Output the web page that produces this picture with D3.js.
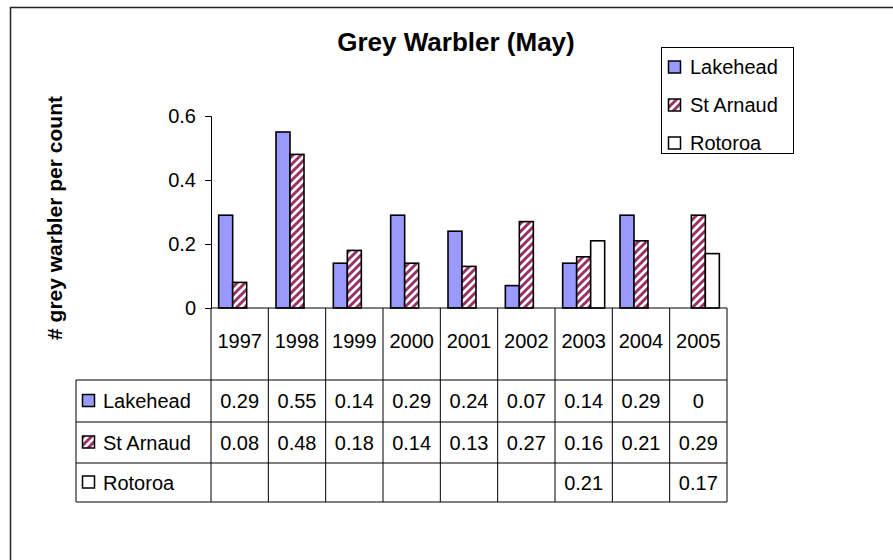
<!DOCTYPE html>
<html>
<head>
<meta charset="utf-8">
<script src="https://cdn.jsdelivr.net/npm/d3@7"></script>
<style>
  body { margin: 0; background: #fff; }
  svg { display: block; }
</style>
</head>
<body>
<div id="chart"></div>
<script>
const years = ["1997", "1998", "1999", "2000", "2001", "2002", "2003", "2004", "2005"];
const seriesNames = ["Lakehead", "St Arnaud", "Rotoroa"];
const lakehead = [0.29, 0.55, 0.14, 0.29, 0.24, 0.07, 0.14, 0.29, 0];
const stArnaud = [0.08, 0.48, 0.18, 0.14, 0.13, 0.27, 0.16, 0.21, 0.29];
const rotoroa = [null, null, null, null, null, null, 0.21, null, 0.17];
const yTicks = [0, 0.2, 0.4, 0.6];

const W = 893, H = 560;
const font = "'Liberation Sans', Arial, sans-serif";
const plot = {left: 211, right: 727, top: 116, bottom: 308};
const tableLeft = 76;
const rowLines = [380, 422, 463, 502];

const svg = d3.select("#chart")
    .append("svg")
    .attr("width", W)
    .attr("height", H)
    .style("font-family", font);

// hatch for St Arnaud
const defs = svg.append("defs");
defs.append("pattern")
    .attr("id", "hatch")
    .attr("patternUnits", "userSpaceOnUse")
    .attr("width", 8)
    .attr("height", 8)
    .call(p => {
        p.append("rect").attr("width", 8).attr("height", 8).attr("fill", "#fff");
        p.append("path")
            .attr("d", "M-2,2 l4,-4 M0,8 l8,-8 M6,10 l4,-4")
            .attr("stroke", "#993366")
            .attr("stroke-width", 3);
    });

const fills = ["#9999ff", "url(#hatch)", "#ffffff"];
const series = [lakehead, stArnaud, rotoroa];

// outer frame
svg.append("rect")
    .attr("x", 10.5).attr("y", 7.5)
    .attr("width", 900).attr("height", 600)
    .attr("fill", "none")
    .attr("stroke", "#222")
    .attr("stroke-width", 1.5);

// title
svg.append("text")
    .attr("x", 456)
    .attr("y", 51)
    .attr("text-anchor", "middle")
    .attr("font-size", 26)
    .attr("font-weight", "bold")
    .text("Grey Warbler (May)");

// scales
const x = d3.scaleBand()
    .domain(years)
    .range([plot.left, plot.right]);

const barW = 14;
const xs = d3.scaleBand()
    .domain(seriesNames)
    .range([(x.bandwidth() - barW * 3) / 2, (x.bandwidth() + barW * 3) / 2]);

const y = d3.scaleLinear()
    .domain([0, 0.6])
    .range([plot.bottom, plot.top]);

// y axis
const yAxis = svg.append("g")
    .attr("transform", `translate(${plot.left},0)`)
    .call(d3.axisLeft(y).tickValues(yTicks).tickFormat(d => d === 0 ? "0" : d3.format(".1f")(d))
        .tickSizeOuter(0).tickSize(6).tickPadding(9));
yAxis.select(".domain").attr("stroke", "#000");
yAxis.selectAll("text").attr("font-size", 20).attr("font-family", font).attr("fill", "#000");

// y title
svg.append("text")
    .attr("transform", `translate(62,${(plot.top + plot.bottom) / 2 + 6}) rotate(-90)`)
    .attr("text-anchor", "middle")
    .attr("font-size", 21)
    .attr("font-weight", "bold")
    .text("# grey warbler per count");

// bars
series.forEach((vals, i) => {
    svg.append("g")
        .selectAll("rect")
        .data(vals.map((v, j) => ({year: years[j], v})).filter(d => d.v !== null && d.v > 0))
        .enter()
        .append("rect")
        .attr("x", d => x(d.year) + xs(seriesNames[i]))
        .attr("y", d => y(d.v))
        .attr("width", xs.bandwidth())
        .attr("height", d => y(0) - y(d.v))
        .attr("fill", fills[i])
        .attr("stroke", "#000")
        .attr("stroke-width", 1.6);
});

// x axis line
svg.append("line")
    .attr("x1", plot.left).attr("x2", plot.right)
    .attr("y1", plot.bottom).attr("y2", plot.bottom)
    .attr("stroke", "#000");

// data table grid
const grid = svg.append("g").attr("stroke", "#000").attr("stroke-width", 1);
years.concat(["end"]).forEach(yr => {
    const xx = yr === "end" ? plot.right : x(yr);
    grid.append("line")
        .attr("x1", xx).attr("x2", xx)
        .attr("y1", plot.bottom).attr("y2", rowLines[3]);
});
rowLines.forEach(ry => {
    grid.append("line")
        .attr("x1", tableLeft).attr("x2", plot.right)
        .attr("y1", ry).attr("y2", ry);
});
grid.append("line")
    .attr("x1", tableLeft).attr("x2", tableLeft)
    .attr("y1", rowLines[0]).attr("y2", rowLines[3]);

// header years
svg.append("g")
    .selectAll("text")
    .data(years)
    .enter()
    .append("text")
    .attr("x", d => x(d) + x.bandwidth() / 2)
    .attr("y", 341)
    .attr("dy", "0.35em")
    .attr("text-anchor", "middle")
    .attr("font-size", 20)
    .text(d => d);

// rows
series.forEach((vals, i) => {
    const cy = (rowLines[i] + rowLines[i + 1]) / 2;
    svg.append("rect")
        .attr("x", 82.5).attr("y", cy - 6.5)
        .attr("width", 12).attr("height", 12)
        .attr("fill", fills[i])
        .attr("stroke", "#000")
        .attr("stroke-width", 1.5);
    svg.append("text")
        .attr("x", 103)
        .attr("y", cy)
        .attr("dy", "0.35em")
        .attr("font-size", 20)
        .text(seriesNames[i]);
    svg.append("g")
        .selectAll("text")
        .data(vals.map((v, j) => ({year: years[j], v})).filter(d => d.v !== null))
        .enter()
        .append("text")
        .attr("x", d => x(d.year) + x.bandwidth() / 2)
        .attr("y", cy)
        .attr("dy", "0.35em")
        .attr("text-anchor", "middle")
        .attr("font-size", 20)
        .text(d => String(d.v));
});

// legend
const legend = svg.append("g");
legend.append("rect")
    .attr("x", 661.5).attr("y", 47.5)
    .attr("width", 132).attr("height", 106)
    .attr("fill", "#fff")
    .attr("stroke", "#000");
seriesNames.forEach((name, i) => {
    const ly = 67 + i * 38;
    legend.append("rect")
        .attr("x", 668.5).attr("y", ly - 6)
        .attr("width", 12).attr("height", 12)
        .attr("fill", fills[i])
        .attr("stroke", "#000")
        .attr("stroke-width", 1.5);
    legend.append("text")
        .attr("x", 690)
        .attr("y", ly)
        .attr("dy", "0.35em")
        .attr("font-size", 20)
        .text(name);
});
</script>
</body>
</html>
